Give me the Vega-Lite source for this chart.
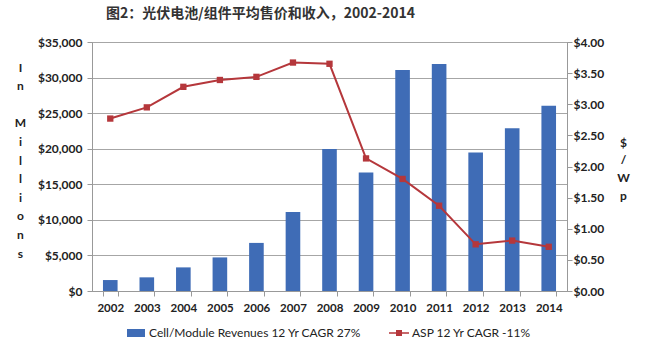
{
  "$schema": "https://vega.github.io/schema/vega-lite/v6.json",
  "width": 475,
  "height": 249,
  "autosize": {"type": "none"},
  "padding": {"left": 92, "top": 42, "right": 82, "bottom": 70},
  "background": "white",
  "title": {
    "text": "图2：光伏电池/组件平均售价和收入，2002-2014",
    "font": "Noto Sans CJK SC",
    "fontSize": 14,
    "fontWeight": "bold",
    "color": "#333333",
    "anchor": "middle",
    "frame": "group",
    "dx": -69,
    "offset": 15
  },
  "data": {
    "values": [
      {"year": "2002", "revenue": 1540, "asp": 2.77},
      {"year": "2003", "revenue": 1920, "asp": 2.95},
      {"year": "2004", "revenue": 3320, "asp": 3.28},
      {"year": "2005", "revenue": 4720, "asp": 3.39},
      {"year": "2006", "revenue": 6760, "asp": 3.44},
      {"year": "2007", "revenue": 11100, "asp": 3.67},
      {"year": "2008", "revenue": 19950, "asp": 3.65},
      {"year": "2009", "revenue": 16660, "asp": 2.13},
      {"year": "2010", "revenue": 31050, "asp": 1.80},
      {"year": "2011", "revenue": 31900, "asp": 1.37},
      {"year": "2012", "revenue": 19460, "asp": 0.75},
      {"year": "2013", "revenue": 22860, "asp": 0.81},
      {"year": "2014", "revenue": 26050, "asp": 0.71}
    ]
  },
  "encoding": {
    "x": {
      "field": "year",
      "type": "ordinal",
      "scale": {"paddingInner": 0.6, "paddingOuter": 0.3},
      "axis": {
        "title": null,
        "labelAngle": 0,
        "labelFont": "Lato",
        "labelFontWeight": "bold",
        "labelFontSize": 11.5,
        "labelColor": "#222222",
        "tickBand": "extent",
        "tickColor": "#999999",
        "tickSize": 5,
        "domainColor": "#999999",
        "labelPadding": 6
      }
    }
  },
  "layer": [
    {
      "mark": {"type": "bar"},
      "encoding": {
        "y": {
          "field": "revenue",
          "type": "quantitative",
          "scale": {"domain": [0, 35000]},
          "axis": {
            "title": ["I", "n", "\u200b", "M", "i", "l", "l", "i", "o", "n", "s"],
            "titleAngle": 0,
            "titleX": -72,
            "titleY": 25,
            "titleAlign": "center",
            "titleBaseline": "middle",
            "titleLineHeight": 18.6,
            "titleFont": "Lato",
            "titleFontWeight": "bold",
            "titleFontSize": 12,
            "titleColor": "#222222",
            "values": [0, 5000, 10000, 15000, 20000, 25000, 30000, 35000],
            "format": "$,.0f",
            "labelFont": "Lato",
            "labelFontWeight": "bold",
            "labelFontSize": 12,
            "labelColor": "#222222",
            "tickSize": 5,
            "tickColor": "#999999",
            "domainColor": "#999999",
            "grid": true,
            "gridColor": "#a6a6a6",
            "labelPadding": 5
          }
        },
        "color": {
          "datum": "Cell/Module Revenues 12 Yr CAGR 27%",
          "type": "nominal",
          "scale": {
            "domain": ["Cell/Module Revenues 12 Yr CAGR 27%", "ASP 12 Yr CAGR -11%"],
            "range": ["#3f6cb6", "#b5373b"]
          },
          "legend": {
            "orient": "none",
            "legendX": 34,
            "legendY": 281,
            "direction": "horizontal",
            "title": null,
            "symbolSize": 400,
            "labelFont": "Lato",
            "labelFontSize": 12,
            "labelColor": "#222222",
            "labelLimit": 400,
            "columnPadding": 27,
            "labelOffset": 3,
            "padding": 0,
            "encode": {
              "symbols": {
                "update": {
                  "shape": {"signal": "indexof(datum.value, 'ASP') === 0 ? 'M-1,-0.08H1V0.08H-1Z M-0.3,-0.3H0.3V0.3H-0.3Z' : 'M-0.9,-0.4H0.9V0.4H-0.9Z'"},
                  "fill": {"signal": "indexof(datum.value, 'ASP') === 0 ? '#b5373b' : '#3f6cb6'"},
                  "stroke": {"value": "transparent"},
                  "strokeWidth": {"value": 0},
                  "opacity": {"value": 1},
                  "fillOpacity": {"value": 1}
                }
              }
            }
          }
        }
      }
    },
    {
      "mark": {
        "type": "line",
        "strokeWidth": 2,
        "point": {"shape": "square", "size": 40, "filled": true}
      },
      "encoding": {
        "y": {
          "field": "asp",
          "type": "quantitative",
          "scale": {"domain": [0, 4]},
          "axis": {
            "orient": "right",
            "title": ["$", "/", "W", "p"],
            "titleAngle": 0,
            "titleX": 56,
            "titleY": 100,
            "titleAlign": "center",
            "titleBaseline": "middle",
            "titleLineHeight": 17.7,
            "titleFont": "Lato",
            "titleFontWeight": "bold",
            "titleFontSize": 12,
            "titleColor": "#222222",
            "values": [0, 0.5, 1, 1.5, 2, 2.5, 3, 3.5, 4],
            "format": "$.2f",
            "labelFont": "Lato",
            "labelFontWeight": "bold",
            "labelFontSize": 12,
            "labelColor": "#222222",
            "tickSize": 5,
            "tickColor": "#999999",
            "domainColor": "#999999",
            "grid": false,
            "labelPadding": 1
          }
        },
        "color": {"datum": "ASP 12 Yr CAGR -11%", "type": "nominal"}
      }
    }
  ],
  "resolve": {"scale": {"y": "independent"}},
  "config": {"view": {"stroke": "#a0a0a0"}}
}
